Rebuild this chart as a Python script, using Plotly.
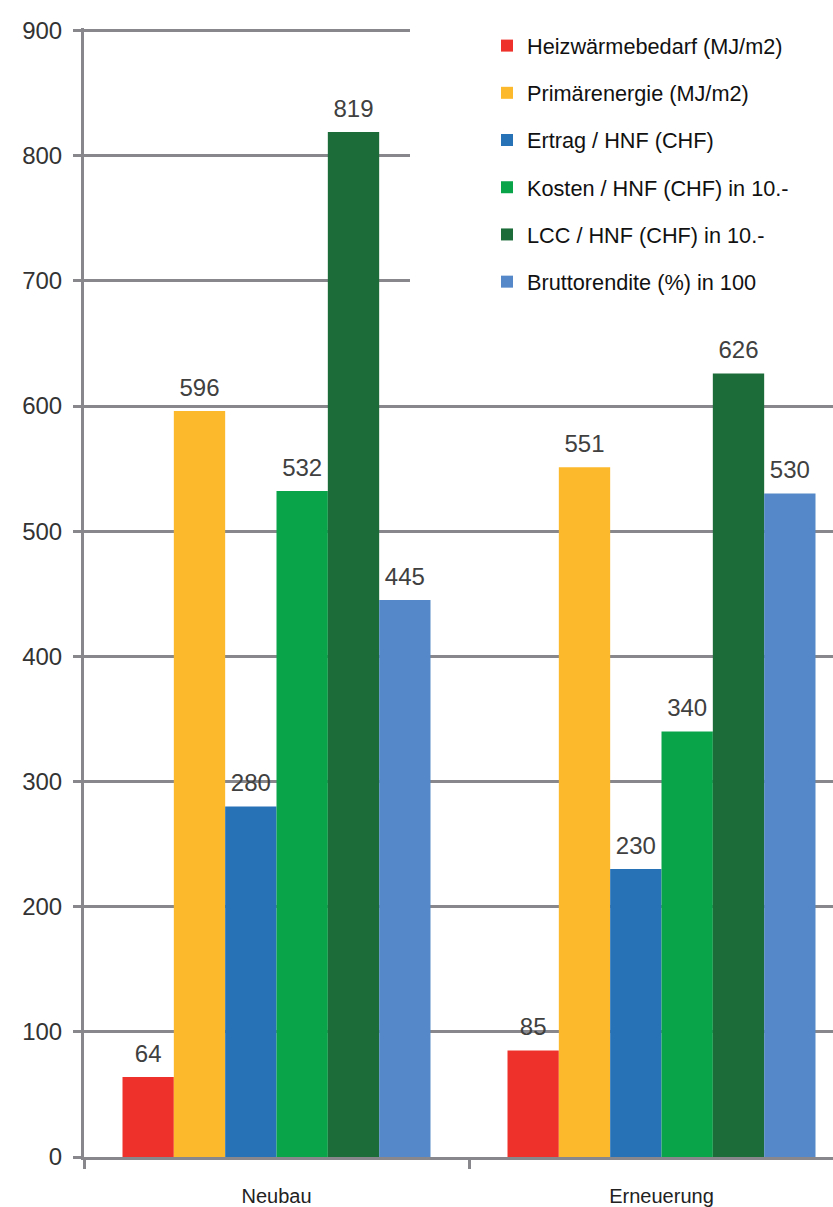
import plotly.graph_objects as go

categories = ["Neubau", "Erneuerung"]
series_names = [
    "Heizwärmebedarf (MJ/m2)",
    "Primärenergie (MJ/m2)",
    "Ertrag / HNF (CHF)",
    "Kosten / HNF (CHF) in 10.-",
    "LCC / HNF (CHF) in 10.-",
    "Bruttorendite (%) in 100",
]
heizwaerme = [64, 85]
primaerenergie = [596, 551]
ertrag = [280, 230]
kosten = [532, 340]
lcc = [819, 626]
bruttorendite = [445, 530]
series_values = [heizwaerme, primaerenergie, ertrag, kosten, lcc, bruttorendite]
colors = ["#EE322B", "#FDB92C", "#2771B6", "#09A44A", "#1B6C39", "#5588C8"]
y_ticks = [0, 100, 200, 300, 400, 500, 600, 700, 800, 900]

W, H = 833, 1207
ML, MT, MB = 84, 28, 50
plot_w = W - ML
plot_h = H - MT - MB
cat_px = 385
x_max = -0.5 + plot_w / cat_px
y_top = 902
FONT = "Liberation Sans, Arial, sans-serif"

fig = go.Figure()
for i, (name, vals, col) in enumerate(zip(series_names, series_values, colors)):
    fig.add_trace(go.Bar(
        name=name, x=categories, y=vals, marker=dict(color=col, line=dict(width=0)),
        offsetgroup=str(i), alignmentgroup="a", legendgroup=f"g{i}",
        hoverinfo="skip",
    ))
for i, vals in enumerate(series_values):
    fig.add_trace(go.Scatter(
        x=categories, y=vals, mode="markers+text", text=[str(v) for v in vals],
        textposition="top center",
        textfont=dict(size=24, color="#404040", family=FONT),
        marker=dict(size=13, color="rgba(0,0,0,0)"),
        offsetgroup=str(i), alignmentgroup="a", showlegend=False,
        cliponaxis=False, hoverinfo="skip",
    ))

grid_col = "#88888c"
fig.update_layout(
    width=W, height=H,
    margin=dict(l=ML, r=0, t=MT, b=MB, pad=0),
    paper_bgcolor="white", plot_bgcolor="white",
    barmode="group", bargap=0.2, bargroupgap=0,
    scattermode="group",
    font=dict(family=FONT, color="#333333"),
    showlegend=True,
    legend=dict(
        x=(487 - ML) / plot_w, xanchor="left", y=1.00266, yanchor="top",
        bgcolor="rgba(255,255,255,0)", font=dict(size=21.7, color="#111111"),
        traceorder="grouped", tracegroupgap=16, itemsizing="constant",
    ),
    xaxis=dict(
        type="category", range=[-0.5, x_max],
        showgrid=False, showline=True, linecolor=grid_col, linewidth=3,
        ticks="outside", tickson="boundaries", ticklen=9, tickwidth=3, tickcolor=grid_col,
        tickfont=dict(size=20, color="#222222"), ticklabelstandoff=19,
    ),
    yaxis=dict(
        range=[0, y_top], tickvals=y_ticks, showgrid=True, gridcolor=grid_col, gridwidth=3,
        showline=True, linecolor=grid_col, linewidth=3, zeroline=False,
        ticks="outside", ticklen=8, tickwidth=3, tickcolor=grid_col,
        tickfont=dict(size=24, color="#333333"), ticklabelstandoff=6,
    ),
    shapes=[dict(
        type="rect", xref="x", yref="y", layer="between",
        x0=-0.5 + (410 - ML) / cat_px, x1=x_max + 0.05,
        y0=y_top * (H - MB - 300) / plot_h, y1=y_top + 10,
        fillcolor="white", line=dict(width=0),
    )],
)

fig.write_html("out.html")
